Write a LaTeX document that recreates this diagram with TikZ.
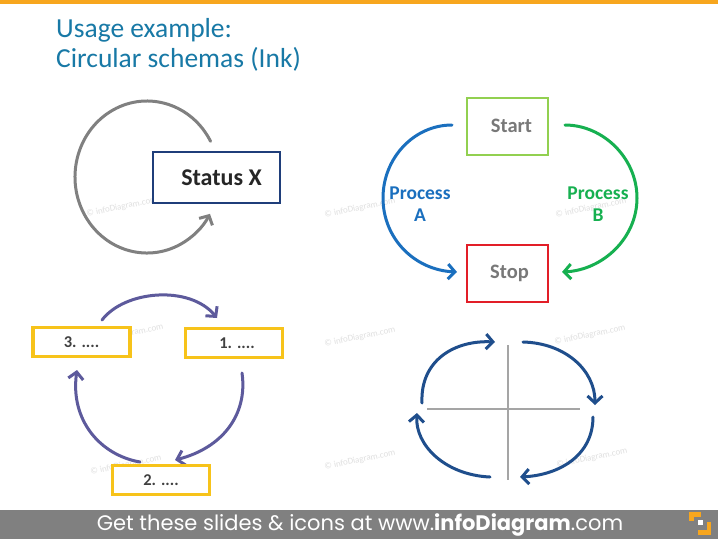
\documentclass[tikz,border=0pt]{standalone}
\usepackage{fontspec}
\setmainfont{Carlito}
\newfontfamily\footfont{Poppins}
\usetikzlibrary{arrows.meta}
\definecolor{titleblue}{RGB}{24,121,166}
\definecolor{topbar}{RGB}{247,166,30}
\definecolor{footgray}{RGB}{128,128,128}
\definecolor{arcgray}{RGB}{128,128,128}
\definecolor{statusblue}{RGB}{31,62,122}
\definecolor{startgreen}{RGB}{146,208,80}
\definecolor{stopred}{RGB}{226,30,40}
\definecolor{procblue}{RGB}{26,111,190}
\definecolor{procgreen}{RGB}{22,176,80}
\definecolor{gold}{RGB}{247,195,26}
\definecolor{purp}{RGB}{93,90,156}
\definecolor{navy}{RGB}{31,78,140}
\definecolor{textgray}{RGB}{120,120,120}
\definecolor{darktext}{RGB}{64,64,64}
\definecolor{crossgray}{RGB}{165,165,165}
\tikzset{
  wmark/.style={font=\fontsize{9}{9}\selectfont, text=black!12, rotate=12},
  inkarrow/.style={line width=3pt, line cap=round, -{Straight Barb[length=7pt,width=15pt]}},
  bigbox/.style={draw, line width=2.5pt, fill=white, minimum width=81pt, minimum height=57pt, font=\fontsize{20.5}{20.5}\selectfont\bfseries, text=textgray},
  goldbox/.style={draw=gold, line width=3.5pt, fill=white, minimum width=97pt, minimum height=29pt, font=\fontsize{16.5}{16.5}\selectfont\bfseries, text=darktext},
  proclabel/.style={font=\fontsize{19.5}{22}\selectfont\bfseries, align=center},
}
\begin{document}
\begin{tikzpicture}[x=1pt,y=-1pt]
\useasboundingbox (0,0) rectangle (718,539);
\fill[white] (0,0) rectangle (718,539);
% top bar
\fill[topbar] (0,0) rectangle (718,4);
% title
\node[anchor=base west, text=titleblue, font=\fontsize{27.5}{27.5}\selectfont, inner sep=0] (t1) at (56,37) {Usage example:};
\node[anchor=base west, text=titleblue, font=\fontsize{27.5}{27.5}\selectfont, inner sep=0] (t2) at (56,67) {Circular schemas (Ink)};
% watermarks
\node[wmark] (w1) at (122,207) {© infoDiagram.com};
\node[wmark] (w2) at (360,208) {© infoDiagram.com};
\node[wmark] (w3) at (591,208) {© infoDiagram.com};
\node[wmark] (w4) at (128,334) {© infoDiagram.com};
\node[wmark] (w5) at (360,337) {© infoDiagram.com};
\node[wmark] (w6) at (590,335) {© infoDiagram.com};
\node[wmark] (w7) at (126,465) {© infoDiagram.com};
\node[wmark] (w8) at (360,460) {© infoDiagram.com};
\node[wmark] (w9) at (592,458) {© infoDiagram.com};

% ---- diagram 1 ----
\coordinate (c1) at (147,177);
\draw[arcgray, line width=3pt, line cap=round, -{Straight Barb[length=7pt,width=15pt]}]
  ([shift={(-28:72 and 76)}]c1) arc[start angle=-28, end angle=-331, x radius=72, y radius=76];
\node[draw=statusblue, line width=2.5pt, fill=white, minimum width=127pt, minimum height=51pt, font=\fontsize{24}{24}\selectfont\bfseries, text=black!85] (sx) at (216.5,177.5) {\hspace{10pt}Status X};

% ---- diagram 2 ----
\node[bigbox, draw=startgreen, line width=2pt] (start) at (507.5,126) {\hspace{8pt}Start};
\node[bigbox, draw=stopred, line width=2pt] (stop) at (507.5,273.5) {\hspace{4pt}Stop};
\coordinate (a1) at (452,125);
\coordinate (a2) at (457,272);
\coordinate (b1) at (565,125);
\coordinate (b2) at (562,272);
\draw[inkarrow, procblue] (a1) .. controls (414,125) and (383,158) .. (383,198) .. controls (383,238) and (414,270) .. (a2);
\draw[inkarrow, procgreen] (b1) .. controls (603,125) and (637,158) .. (637,198) .. controls (637,238) and (603,270) .. (b2);
\node[proclabel, text=procblue] (pa) at (420,204) {Process\\A};
\node[proclabel, text=procgreen] (pb) at (598,204) {Process\\B};

% ---- diagram 3 ----
\coordinate (p1s) at (102,320);
\coordinate (p1e) at (217,318);
\coordinate (p2s) at (242,373);
\coordinate (p2e) at (175,460);
\coordinate (p3s) at (140,462);
\coordinate (p3e) at (77,370);
\draw[inkarrow, purp] (p1s) .. controls (125,290) and (190,285) .. (p1e);
\draw[inkarrow, purp] (p2s) .. controls (248,415) and (222,448) .. (p2e);
\draw[inkarrow, purp] (p3s) .. controls (100,455) and (70,420) .. (p3e);
\node[goldbox] (b3) at (81.5,342) {3. ....\hspace{8pt}};
\node[goldbox] (b1x) at (234,343) {\hspace{6pt}1. ....};
\node[goldbox] (b2x) at (161,480) {2. ....};

% ---- diagram 4 ----
\coordinate (vt) at (508,345);
\coordinate (vb) at (508,480);
\coordinate (hl) at (427,409);
\coordinate (hr) at (580,409);
\draw[crossgray, line width=1.6pt] (vt) -- (vb);
\draw[crossgray, line width=1.6pt] (hl) -- (hr);
\coordinate (q1s) at (422,403);
\coordinate (q1e) at (495,342);
\coordinate (q2s) at (523,342);
\coordinate (q2e) at (595,405);
\coordinate (q3s) at (593,417);
\coordinate (q3e) at (520,477);
\coordinate (q4s) at (490,477);
\coordinate (q4e) at (417,413);
\draw[inkarrow, navy] (q1s) .. controls (420,360) and (455,340) .. (q1e);
\draw[inkarrow, navy] (q2s) .. controls (565,343) and (595,370) .. (q2e);
\draw[inkarrow, navy] (q3s) .. controls (593,455) and (560,475) .. (q3e);
\draw[inkarrow, navy] (q4s) .. controls (445,475) and (415,445) .. (q4e);

% ---- footer ----
\fill[footgray] (0,510) rectangle (718,539);
\node[text=white, font=\footfont\fontsize{21}{21}\selectfont, inner sep=0] (foot) at (360,524.5) {Get these slides \& icons at www.\textbf{infoDiagram}.com};
% logo
\fill[topbar] (689,512) rectangle (701,516.5);
\fill[topbar] (689,512) rectangle (693.5,521);
\fill[white] (698,520) rectangle (703,525);
\fill[topbar] (698,530) rectangle (711,534.5);
\fill[topbar] (706.5,522) rectangle (711,534.5);
\end{tikzpicture}
\end{document}
